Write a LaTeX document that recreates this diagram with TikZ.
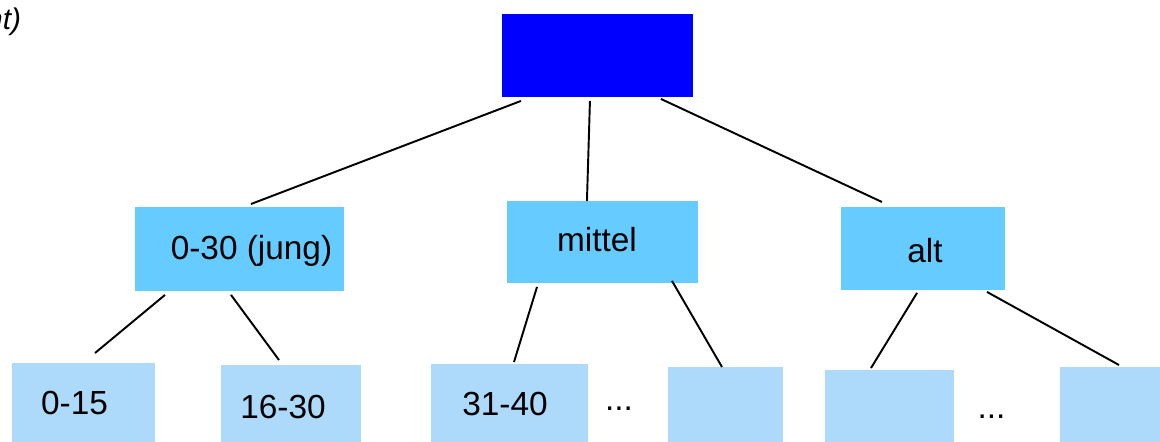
\documentclass[tikz,border=0pt]{standalone}
\usepackage{fontspec}
\setmainfont{Liberation Sans}
\usetikzlibrary{calc}
\definecolor{kopfblau}{RGB}{0,0,255}
\definecolor{mittelblau}{RGB}{102,204,255}
\definecolor{hellblau}{RGB}{173,217,250}
\tikzset{
  kasten/.style={anchor=north west, inner sep=0pt, draw=none},
  kopf/.style={kasten, fill=kopfblau},
  stufe/.style={kasten, fill=mittelblau},
  blatt/.style={kasten, fill=hellblau},
  beschr/.style={anchor=base, inner sep=0pt}
}

\begin{document}
\begin{tikzpicture}[x=0.02cm, y=-0.02cm, line width=1.1pt, font=\fontsize{19}{23}\selectfont]
        \useasboundingbox (0,0) rectangle (1160,441);

        % Wurzel und erste Stufe
        \node[kopf, minimum width=3.82cm, minimum height=1.66cm] (wurzel) at (501,13) {};
        \node[stufe, minimum width=4.18cm, minimum height=1.68cm] (jung) at (134,206) {};
        \node[stufe, minimum width=3.82cm, minimum height=1.64cm] (mittel) at (506,200) {};
        \node[stufe, minimum width=3.28cm, minimum height=1.66cm] (alt) at (840,206) {};

        % Blaetter
        \node[blatt, minimum width=2.86cm, minimum height=1.66cm] (b1) at (11,362) {};
        \node[blatt, minimum width=2.80cm, minimum height=1.62cm] (b2) at (220,364) {};
        \node[blatt, minimum width=3.14cm, minimum height=1.64cm] (b3) at (430,363) {};
        \node[blatt, minimum width=2.30cm, minimum height=1.58cm] (b4) at (667,366) {};
        \node[blatt, minimum width=2.58cm, minimum height=1.52cm] (b5) at (824,369) {};
        \node[blatt, minimum width=2.12cm, minimum height=1.58cm] (b6) at (1059,366) {};

        % Beschriftungen
        \node[beschr] (tjung) at (251.5,259) {0-30 (jung)};
        \node[beschr] (tmittel) at (597,251) {mittel};
        \node[beschr] (talt) at (925,262) {alt};
        \node[beschr] (tb1) at (74.5,414) {0-15};
        \node[beschr] (tb2) at (283,418) {16-30};
        \node[beschr] (tb3) at (505,415) {31-40};
        \node[beschr] (punkte1) at (619,410) {...};
        \node[beschr] (punkte2) at (991.5,418) {...};
        \node[anchor=base east, inner sep=0pt, font=\fontsize{17}{20}\selectfont\itshape] (rest) at (22,29) {nt)};

        % Kanten
        \draw ($(wurzel.south west)+(20,3)$) -- ($(jung.north west)+(117,-2)$);
        \draw ($(wurzel.south)+(-7.5,3)$) -- ($(mittel.north)+(-15.5,1)$);
        \draw ($(wurzel.south east)+(-33,1)$) -- ($(alt.north west)+(42,-4)$);
        \draw ($(jung.south west)+(31,3)$) -- ($(b1.north west)+(84,-9)$);
        \draw ($(jung.south west)+(97,3)$) -- ($(b2.north west)+(59,-4)$);
        \draw ($(mittel.south west)+(31,3)$) -- ($(b3.north west)+(84,-1)$);
        \draw ($(mittel.south west)+(166,-3)$) -- ($(b4.north west)+(55,1)$);
        \draw ($(alt.south west)+(77,2)$) -- ($(b5.north west)+(47,-1)$);
        \draw ($(alt.south west)+(147,1)$) -- ($(b6.north west)+(60,-1)$);
\end{tikzpicture}
\end{document}
